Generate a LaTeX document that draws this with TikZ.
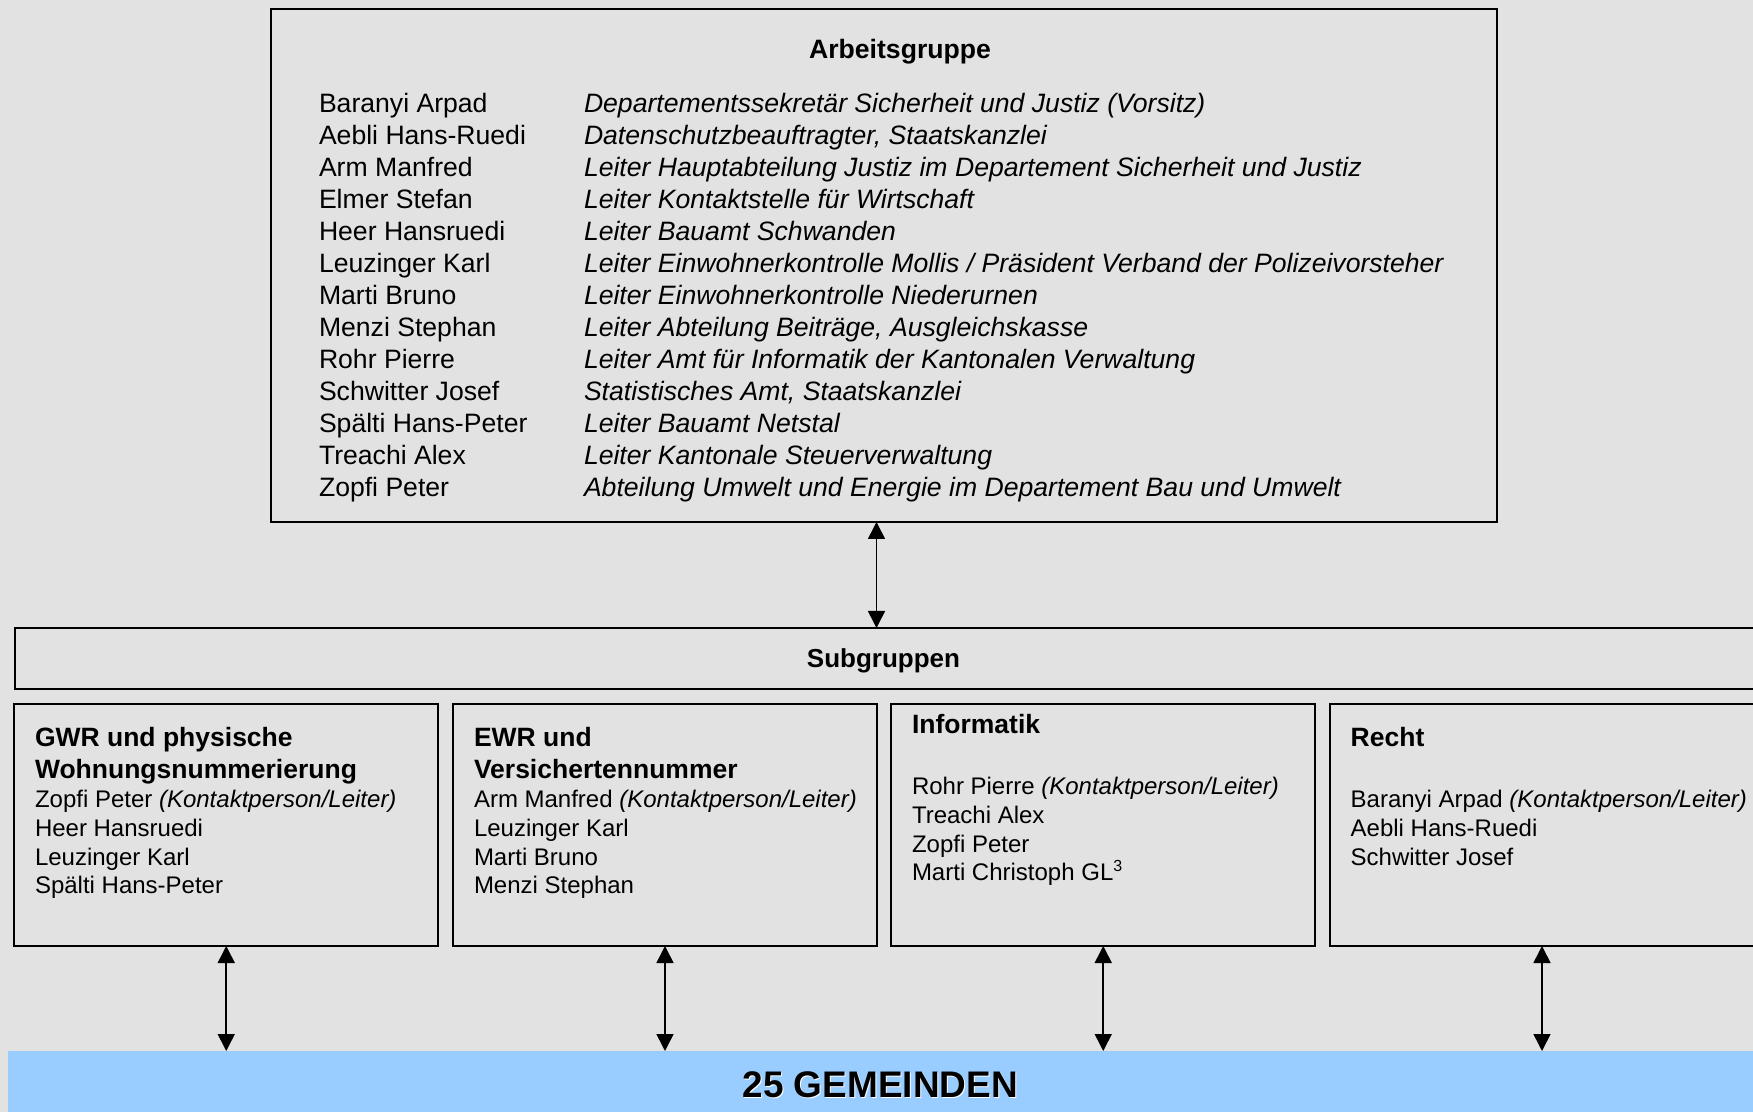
\documentclass[tikz,border=0pt]{standalone}
\usepackage{fontspec}
\setmainfont{Liberation Sans}
\usetikzlibrary{arrows.meta}
\definecolor{bgc}{RGB}{226,226,226}
\definecolor{gemblue}{RGB}{153,204,255}
\begin{document}
\begin{tikzpicture}[x=0.5pt,y=-0.5pt,
  frame/.style={draw=black,line width=1pt,fill=none,inner sep=0,outer sep=0},
  subbox/.style={frame,minimum width=212pt,minimum height=121pt},
  txt/.style={inner sep=0,outer sep=0,anchor=base west,font=\fontsize{12}{14}\selectfont},
  toptxt/.style={txt,font=\fontsize{13.3}{16}\selectfont},
  ttl/.style={txt,font=\fontsize{13.25}{16}\selectfont\bfseries},
  arr/.style={line width=0.8pt,{Triangle[length=8.5pt,width=8.5pt]}-{Triangle[length=8.5pt,width=8.5pt]}}]
\useasboundingbox (0,0) rectangle (1753,1112);
\fill[bgc] (0,0) rectangle (1753,1112);
\clip (0,0) rectangle (1753,1112);

% Arbeitsgruppe
\node[frame,minimum width=613.25pt,minimum height=256.5pt] (ag) at (883.75,265.5) {};
\node[inner sep=0,anchor=base,font=\fontsize{13.3}{16}\selectfont\bfseries] (agt) at (900,58.5) {Arbeitsgruppe};
\foreach \nm/\rl [count=\i from 0] in {
  {Baranyi Arpad}/{Departementssekretär Sicherheit und Justiz (Vorsitz)},
  {Aebli Hans-Ruedi}/{Datenschutzbeauftragter, Staatskanzlei},
  {Arm Manfred}/{Leiter Hauptabteilung Justiz im Departement Sicherheit und Justiz},
  {Elmer Stefan}/{Leiter Kontaktstelle für Wirtschaft},
  {Heer Hansruedi}/{Leiter Bauamt Schwanden},
  {Leuzinger Karl}/{Leiter Einwohnerkontrolle Mollis / Präsident Verband der Polizeivorsteher},
  {Marti Bruno}/{Leiter Einwohnerkontrolle Niederurnen},
  {Menzi Stephan}/{Leiter Abteilung Beiträge, Ausgleichskasse},
  {Rohr Pierre}/{Leiter Amt für Informatik der Kantonalen Verwaltung},
  {Schwitter Josef}/{Statistisches Amt, Staatskanzlei},
  {Spälti Hans-Peter}/{Leiter Bauamt Netstal},
  {Treachi Alex}/{Leiter Kantonale Steuerverwaltung},
  {Zopfi Peter}/{Abteilung Umwelt und Energie im Departement Bau und Umwelt}}{
  \node[toptxt] (n\i) at (319,{112.3+32.05*\i}) {\nm};
  \node[toptxt] (r\i) at (584,{112.3+32.05*\i}) {\itshape\rl};
}

% Subgruppen bar
\node[frame,minimum width=882.75pt,minimum height=30.5pt] (sg) at (897.25,658.5) {};
\node[inner sep=0,anchor=base,font=\fontsize{13}{16}\selectfont\bfseries] (sgt) at (883.5,668) {Subgruppen};

% Sub boxes
\node[subbox] (gwr) at (226.25,825) {};
\node[subbox] (ewr) at (665,825) {};
\node[subbox] (inf) at (1103.25,825) {};
\node[subbox] (rec) at (1542,825) {};

% GWR
\node[ttl] (g1) at (35,746.7) {GWR und physische};
\node[ttl] (g2) at (35,778) {Wohnungsnummerierung};
\node[txt] (g3) at (35,807) {Zopfi Peter \textit{(Kontaktperson/Leiter)}};
\node[txt] (g4) at (35,836) {Heer Hansruedi};
\node[txt] (g5) at (35,865) {Leuzinger Karl};
\node[txt] (g6) at (35,893.5) {Spälti Hans-Peter};

% EWR
\node[ttl] (e1) at (474,746.7) {EWR und};
\node[ttl] (e2) at (474,778) {Versichertennummer};
\node[txt] (e3) at (474,807) {Arm Manfred \textit{(Kontaktperson/Leiter)}};
\node[txt] (e4) at (474,836) {Leuzinger Karl};
\node[txt] (e5) at (474,865) {Marti Bruno};
\node[txt] (e6) at (474,893.5) {Menzi Stephan};

% Informatik
\node[ttl] (i1) at (912,733.8) {Informatik};
\node[txt] (i3) at (912,794) {Rohr Pierre \textit{(Kontaktperson/Leiter)}};
\node[txt] (i4) at (912,823) {Treachi Alex};
\node[txt] (i5) at (912,852) {Zopfi Peter};
\node[txt] (i6) at (912,880.5) {Marti Christoph GL\textsuperscript{3}};

% Recht
\node[ttl] (k1) at (1350.7,746.7) {Recht};
\node[txt] (k3) at (1350.7,807) {Baranyi Arpad \textit{(Kontaktperson/Leiter)}};
\node[txt] (k4) at (1350.7,836) {Aebli Hans-Ruedi};
\node[txt] (k5) at (1350.7,865) {Schwitter Josef};

% Gemeinden bar
\node[fill=gemblue,inner sep=0,outer sep=0,minimum width=896pt,minimum height=40pt] (gem) at (903.9,1091) {};
\node[inner sep=0,anchor=base,text=white,font=\fontsize{18.5}{20}\selectfont\bfseries] (gemsh) at (881.3,1098.7) {25 GEMEINDEN};
\node[inner sep=0,anchor=base,font=\fontsize{18.5}{20}\selectfont\bfseries] (gemt) at (880.3,1097.7) {25 GEMEINDEN};

% Arrows
\draw[arr] ([xshift=-3.625pt]ag.south) -- ([xshift=-3.625pt]ag.south |- sg.north);
\foreach \b in {gwr,ewr,inf,rec}{
  \draw[arr] (\b.south) -- (\b.south |- gem.north);
}
\end{tikzpicture}
\end{document}
